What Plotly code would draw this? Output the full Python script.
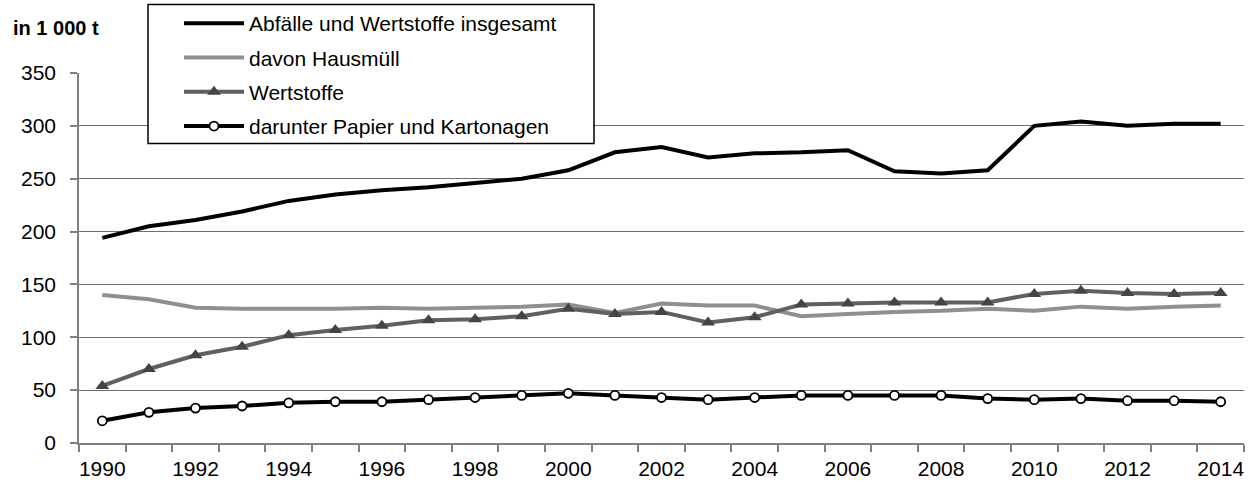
import plotly.graph_objects as go

# Jahreswerte in 1 000 t
years = list(range(1990, 2015))
insgesamt = [194, 205, 211, 219, 229, 235, 239, 242, 246, 250, 258, 275, 280,
             270, 274, 275, 277, 257, 255, 258, 300, 304, 300, 302, 302]
hausmuell = [140, 136, 128, 127, 127, 127, 128, 127, 128, 129, 131, 123, 132,
             130, 130, 120, 122, 124, 125, 127, 125, 129, 127, 129, 130]
wertstoffe = [54, 70, 83, 91, 102, 107, 111, 116, 117, 120, 127, 122, 124,
              114, 119, 131, 132, 133, 133, 133, 141, 144, 142, 141, 142]
papier = [21, 29, 33, 35, 38, 39, 39, 41, 43, 45, 47, 45, 43,
          41, 43, 45, 45, 45, 45, 42, 41, 42, 40, 40, 39]

names = ["Abfälle und Wertstoffe insgesamt", "davon Hausmüll",
         "Wertstoffe", "darunter Papier und Kartonagen"]
y_ticks = [0, 50, 100, 150, 200, 250, 300, 350]
x_labels = list(range(1990, 2015, 2))

W, H = 1255, 482
ML, MR, MT, MB = 79, 11, 73, 39
FONT = "Liberation Sans"

plot_w = W - ML - MR
plot_h = H - MT - MB


def px_x(px):
    """Pixel column -> paper x."""
    return (px - ML) / plot_w


def px_y(py):
    """Pixel row (from top) -> paper y."""
    return (H - MB - py) / plot_h


fig = go.Figure()
fig.add_trace(go.Scatter(x=years, y=insgesamt, name=names[0], mode="lines",
                         line=dict(color="#000000", width=4), legendgroup="a"))
fig.add_trace(go.Scatter(x=years, y=hausmuell, name=names[1], mode="lines",
                         line=dict(color="#8f8f8f", width=4), legendgroup="b"))
fig.add_trace(go.Scatter(x=years, y=wertstoffe, name=names[2], mode="lines+markers",
                         line=dict(color="#606060", width=4),
                         marker=dict(symbol="triangle-up", size=12, color="#444444",
                                     line=dict(color="#444444", width=0)),
                         legendgroup="c"))
fig.add_trace(go.Scatter(x=years, y=papier, name=names[3], mode="lines+markers",
                         line=dict(color="#000000", width=4),
                         marker=dict(symbol="circle", size=9, color="#ffffff",
                                     line=dict(color="#000000", width=1.8)),
                         legendgroup="d"))

fig.update_layout(
    width=W, height=H,
    margin=dict(l=ML, r=MR, t=MT, b=MB, pad=0, autoexpand=False),
    paper_bgcolor="#ffffff", plot_bgcolor="#ffffff",
    font=dict(family=FONT, size=21, color="#000000"),
    showlegend=True,
    legend=dict(
        x=px_x(148), y=px_y(3),
        xanchor="left", yanchor="top",
        bgcolor="rgba(0,0,0,0)", borderwidth=0,
        font=dict(family=FONT, size=21, color="#000000"),
        traceorder="grouped", tracegroupgap=4,
        itemwidth=60, indentation=31,
    ),
    xaxis=dict(
        range=[1989.5, 2014.5], tickmode="array", tickvals=x_labels,
        ticktext=[str(v) for v in x_labels], ticks="", showgrid=False,
        showline=True, linecolor="#808080", linewidth=1.5,
        zeroline=False, ticklabelstandoff=6, automargin=False,
        minor=dict(tick0=1989.5, dtick=1, ticks="outside", ticklen=7,
                   tickcolor="#808080", tickwidth=1.5, showgrid=False),
    ),
    yaxis=dict(
        range=[0, 350], tickmode="array", tickvals=y_ticks,
        ticktext=[str(v) for v in y_ticks],
        ticks="outside", ticklen=7, tickcolor="#808080", tickwidth=1.5,
        showgrid=True, gridcolor="#6e6e6e", gridwidth=1,
        showline=True, linecolor="#808080", linewidth=1.5,
        zeroline=False, ticklabelstandoff=10, automargin=False,
    ),
    shapes=[dict(type="rect", xref="paper", yref="paper",
                 x0=px_x(148), x1=px_x(594), y0=px_y(143.5), y1=px_y(4.5),
                 line=dict(color="#000000", width=1.5), fillcolor="#ffffff",
                 layer="above")],
    annotations=[dict(text="<b>in 1 000 t</b>", xref="paper", yref="paper",
                      x=px_x(11), y=px_y(28),
                      xanchor="left", yanchor="middle", showarrow=False,
                      font=dict(family=FONT, size=20, color="#000000"))],
)

fig.write_html("out.html")
